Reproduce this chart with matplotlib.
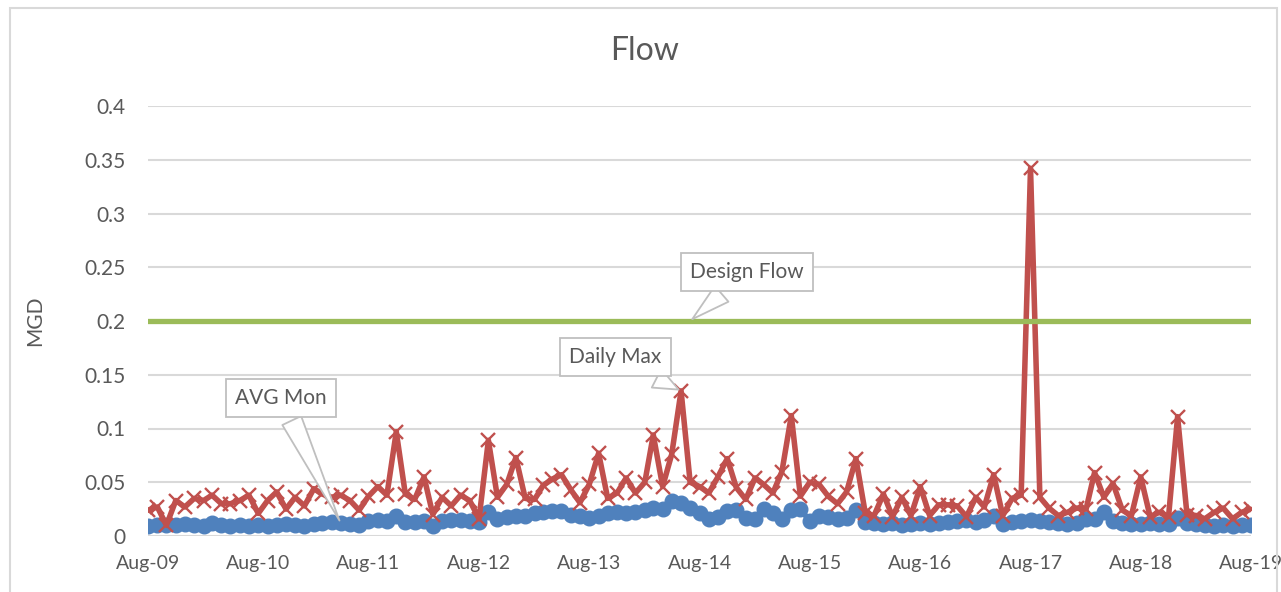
import matplotlib
matplotlib.use("Agg")
import matplotlib.pyplot as plt
import pandas as pd
from matplotlib.patches import Rectangle

# ---- data ----
dates = pd.date_range("2009-08-01", periods=121, freq="MS")

daily_max = [
    0.024, 0.027, 0.010, 0.033, 0.027, 0.035, 0.033, 0.038, 0.030, 0.030, 0.033, 0.038,
    0.021, 0.033, 0.041, 0.025, 0.036, 0.028, 0.044, 0.039, 0.036, 0.038, 0.033, 0.024,
    0.037, 0.046, 0.038, 0.097, 0.039, 0.034, 0.055, 0.020, 0.036, 0.028, 0.038, 0.033,
    0.016, 0.089, 0.036, 0.048, 0.073, 0.035, 0.034, 0.047, 0.053, 0.057, 0.043, 0.031,
    0.048, 0.077, 0.035, 0.040, 0.054, 0.040, 0.050, 0.094, 0.046, 0.076, 0.135, 0.050,
    0.046, 0.040, 0.055, 0.072, 0.045, 0.034, 0.054, 0.048, 0.040, 0.060, 0.112, 0.037,
    0.050, 0.048, 0.037, 0.030, 0.041, 0.072, 0.021, 0.019, 0.039, 0.018, 0.036, 0.019,
    0.046, 0.019, 0.029, 0.029, 0.028, 0.018, 0.036, 0.027, 0.057, 0.019, 0.035, 0.038,
    0.342, 0.036, 0.026, 0.019, 0.022, 0.026, 0.025, 0.059, 0.036, 0.049, 0.024, 0.019,
    0.055, 0.018, 0.022, 0.018, 0.111, 0.020, 0.019, 0.016, 0.022, 0.026, 0.016, 0.022,
    0.025,
]

avg_mon = [
    0.009, 0.010, 0.010, 0.010, 0.011, 0.010, 0.009, 0.012, 0.010, 0.009, 0.010, 0.009,
    0.010, 0.009, 0.010, 0.011, 0.010, 0.009, 0.011, 0.012, 0.013, 0.012, 0.011, 0.010,
    0.014, 0.015, 0.014, 0.019, 0.013, 0.013, 0.014, 0.009, 0.014, 0.015, 0.015, 0.014,
    0.013, 0.022, 0.016, 0.018, 0.019, 0.019, 0.021, 0.022, 0.023, 0.023, 0.020, 0.019,
    0.017, 0.019, 0.021, 0.022, 0.021, 0.022, 0.024, 0.026, 0.025, 0.033, 0.031, 0.026,
    0.021, 0.016, 0.018, 0.023, 0.024, 0.017, 0.016, 0.025, 0.021, 0.016, 0.024, 0.025,
    0.014, 0.019, 0.018, 0.016, 0.017, 0.024, 0.013, 0.012, 0.011, 0.012, 0.010, 0.011,
    0.012, 0.011, 0.012, 0.013, 0.014, 0.015, 0.013, 0.015, 0.019, 0.011, 0.013, 0.014,
    0.015, 0.014, 0.013, 0.012, 0.011, 0.012, 0.016, 0.016, 0.022, 0.014, 0.012, 0.011,
    0.011, 0.012, 0.011, 0.011, 0.017, 0.012, 0.011, 0.010, 0.009, 0.010, 0.009, 0.010,
    0.010,
]

design_flow = [0.2] * len(dates)

tick_dates = pd.date_range("2009-08-01", "2019-08-01", freq="12MS")
tick_labels = ["Aug-09", "Aug-10", "Aug-11", "Aug-12", "Aug-13", "Aug-14",
               "Aug-15", "Aug-16", "Aug-17", "Aug-18", "Aug-19"]
y_ticks = [0, 0.05, 0.1, 0.15, 0.2, 0.25, 0.3, 0.35, 0.4]
y_tick_labels = ["0", "0.05", "0.1", "0.15", "0.2", "0.25", "0.3", "0.35", "0.4"]

# ---- style ----
plt.rcParams["font.family"] = ["Lato", "DejaVu Sans"]
TXT = "#595959"
GRID = "#D9D9D9"
RED = "#C0504D"
BLUE = "#4F81BD"
GREEN = "#9BBB59"

W, H = 1281, 592
fig = plt.figure(figsize=(W / 100, H / 100), dpi=100)
fig.patch.set_facecolor("white")

# outer chart border
fig.patches.append(Rectangle((10 / W, -0.05), (1277 - 10) / W, 1.05 - 8 / H,
                             transform=fig.transFigure, fill=False,
                             edgecolor=GRID, linewidth=1.5))

left, right, top, bottom = 148, 1251, 106, 536
ax = fig.add_axes([left / W, (H - bottom) / H, (right - left) / W, (bottom - top) / H])

ax.plot(dates, avg_mon, color=BLUE, linewidth=4.0, marker="o", markersize=10.5,
        markerfacecolor=BLUE, markeredgecolor=BLUE, zorder=3)
ax.plot(dates, daily_max, color=RED, linewidth=4.0, marker="x", markersize=10.5,
        markeredgewidth=1.7, markeredgecolor=RED, zorder=4)
ax.plot(dates, design_flow, color=GREEN, linewidth=3.8, zorder=5)

ax.set_xlim(dates[0], dates[-1])
ax.set_ylim(0, 0.4)
ax.set_yticks(y_ticks)
ax.set_yticklabels(y_tick_labels)
ax.set_xticks(tick_dates)
ax.set_xticklabels(tick_labels)
ax.tick_params(axis="both", length=0, labelcolor=TXT)
ax.tick_params(axis="y", pad=16, labelsize=15)
ax.tick_params(axis="x", pad=14, labelsize=14)
ax.grid(axis="y", color=GRID, linewidth=1.5, zorder=0)
ax.set_axisbelow(True)
for s in ax.spines.values():
    s.set_visible(False)

fig.text(645 / W, 1 - 51 / H, "Flow", ha="center", va="center", fontsize=23, color=TXT)
fig.text(35 / W, 1 - 321 / H, "MGD", ha="center", va="center", rotation=90,
         fontsize=15, color=TXT)

box = dict(boxstyle="square,pad=0.45", facecolor="white", edgecolor="#BFBFBF", linewidth=1.3)
arrow = dict(arrowstyle="wedge,tail_width=1.0,shrink_factor=0.5", facecolor="white",
             edgecolor="#BFBFBF", linewidth=1.3)

ax.annotate("Design Flow", xy=(dates[59], 0.2), xytext=(747, H - 272),
            textcoords="figure pixels", ha="center", va="center", fontsize=15, color=TXT,
            bbox=box, arrowprops=arrow, zorder=6)
ax.annotate("Daily Max", xy=(dates[58], daily_max[58]), xytext=(615, H - 357),
            textcoords="figure pixels", ha="center", va="center", fontsize=15, color=TXT,
            bbox=box, arrowprops=arrow, zorder=6)
ax.annotate("AVG Mon", xy=(dates[21], avg_mon[21]), xytext=(281, H - 398),
            textcoords="figure pixels", ha="center", va="center", fontsize=15, color=TXT,
            bbox=box, arrowprops=arrow, zorder=6)

fig.savefig("out.png", dpi=100)
